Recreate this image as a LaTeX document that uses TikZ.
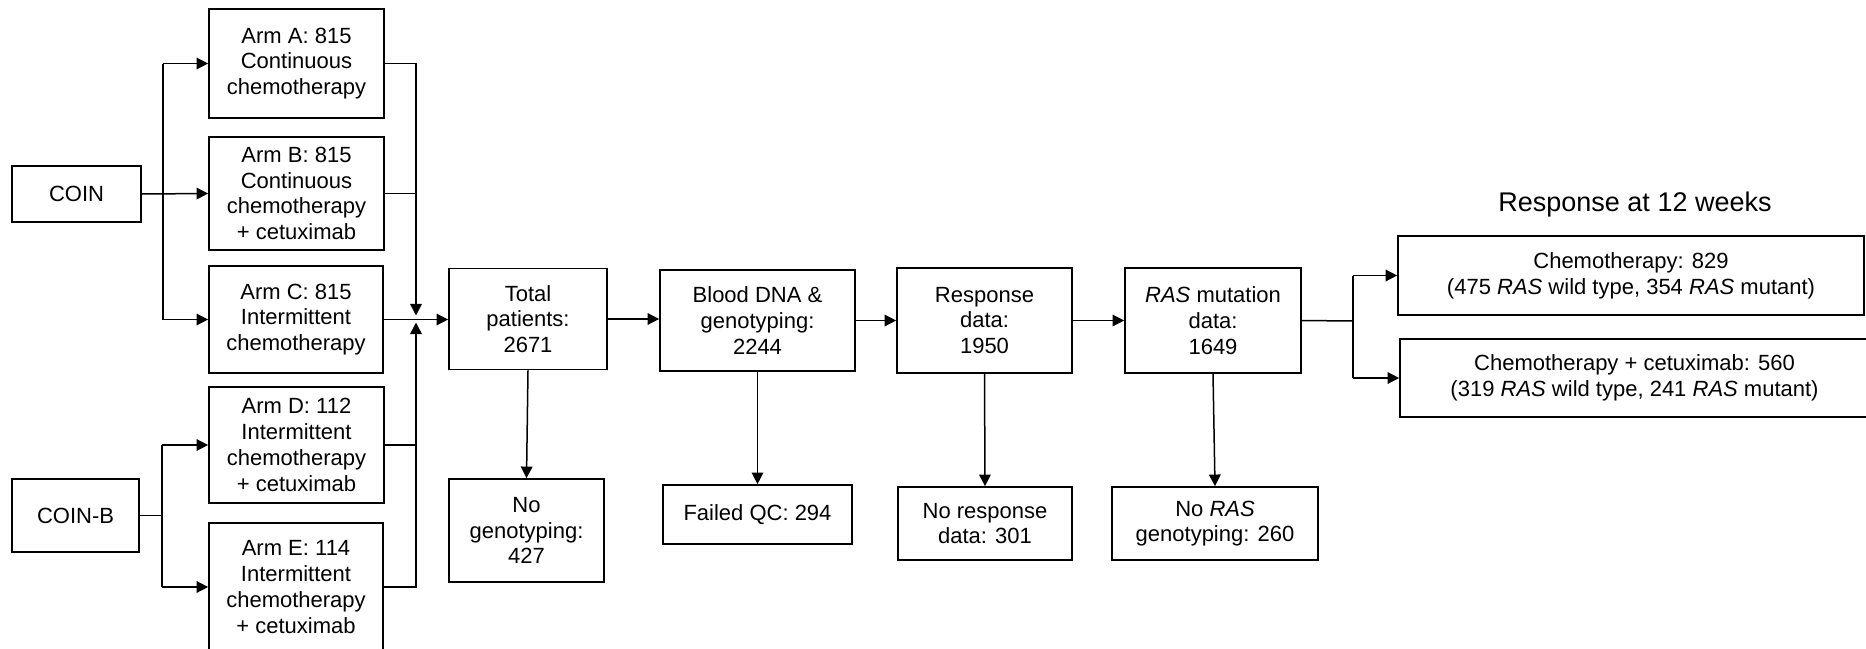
\documentclass[tikz,border=0pt]{standalone}
\usepackage{fontspec}
\setmainfont{Liberation Sans}
\usetikzlibrary{arrows.meta}
\tikzset{%
	block/.style={draw,line width=0.85pt,align=center,inner sep=0pt,font=\fontsize{11}{12.9}\selectfont},
	link/.style={line width=0.75pt},
	flow/.style={link,-{Triangle[length=5.8pt,width=5.8pt]}},
}

\begin{document}
\begin{tikzpicture}[x=0.5pt,y=-0.5pt]
	\useasboundingbox (0,0) rectangle (1866,648);
	\clip (0,0) rectangle (1866,648);
	
	%studies
	\node[block,minimum width=64.5pt,minimum height=28pt] (coin) at (76.5,194) {COIN};
	\node[block,minimum width=63.5pt,minimum height=36.5pt] (coinb) at (75.5,515.5) {COIN-B};
	
	%arms
	\node[block,minimum width=87.5pt,minimum height=54.5pt] (armA) at (296.5,63.5) {Arm A: 815\\Continuous\\chemotherapy};
	\node[block,minimum width=87.5pt,minimum height=56.5pt] (armB) at (296.5,193.5) {Arm B: 815\\Continuous\\chemotherapy\\+ cetuximab};
	\node[block,minimum width=87pt,minimum height=53.5pt] (armC) at (296,319.5) {Arm C: 815\\Intermittent\\chemotherapy};
	\node[block,minimum width=87.5pt,minimum height=58pt] (armD) at (296.5,445) {Arm D: 112\\Intermittent\\chemotherapy\\+ cetuximab};
	\node[block,minimum width=87pt,minimum height=64pt] (armE) at (296,587) {Arm E: 114\\Intermittent\\chemotherapy\\+ cetuximab};
	
	%main row
	\node[block,minimum width=79pt,minimum height=50.5pt] (total) at (528,319) {Total\\patients:\\2671};
	\node[block,minimum width=97.5pt,minimum height=50.5pt] (dna) at (757.5,320.5) {Blood DNA \&\\genotyping:\\2244};
	\node[block,minimum width=87.5pt,minimum height=52.5pt] (resp) at (984.5,320.5) {Response\\data:\\1950};
	\node[block,minimum width=88pt,minimum height=52.5pt] (rasmut) at (1213,320.5) {\textit{RAS} mutation\\data:\\1649};
	
	%exclusions
	\node[block,minimum width=77.5pt,minimum height=51.5pt] (nogeno) at (526.5,530.5) {No\\genotyping:\\427};
	\node[block,minimum width=94.5pt,minimum height=29.5pt] (failqc) at (757.5,514.5) {Failed QC: 294};
	\node[block,minimum width=87pt,minimum height=36.5pt] (noresp) at (985,523.5) {No response\\data: 301};
	\node[block,minimum width=103pt,minimum height=36.5pt] (noras) at (1215,523.5) {No \textit{RAS}\\genotyping: 260};
	
	%response
	\node[font=\fontsize{13.5}{16}\selectfont] (title) at (1635,205) {Response at 12 weeks};
	\node[block,minimum width=233pt,minimum height=39.5pt] (chemo) at (1631,275.5) {Chemotherapy: 829\\(475 \textit{RAS} wild type, 354 \textit{RAS} mutant)};
	\node[block,minimum width=234.5pt,minimum height=39pt] (chemocet) at (1634.5,378) {Chemotherapy + cetuximab: 560\\(319 \textit{RAS} wild type, 241 \textit{RAS} mutant)};
	
	%forks
	\coordinate (coinfork) at (163,194);
	\coordinate (coinbfork) at (162,515.5);
	\coordinate (join) at (416,319);
	\coordinate (jointop) at (416,315.5);
	\coordinate (joinbot) at (416,322.5);
	\coordinate (resfork) at (1353,321);
	
	%COIN
	\draw[flow] (coin.east) -- (armB.west);
	\draw[link] (coinfork |- armA.west) -- (coinfork |- armC.west);
	\draw[flow] (coinfork |- armA.west) -- (armA.west);
	\draw[flow] (coinfork |- armC.west) -- (armC.west);
	
	%COIN-B
	\draw[link] (coinb.east) -- (coinbfork);
	\draw[link] (coinbfork |- armD.west) -- (coinbfork |- armE.west);
	\draw[flow] (coinbfork |- armD.west) -- (armD.west);
	\draw[flow] (coinbfork |- armE.west) -- (armE.west);
	
	%merge
	\draw[flow] (armA.east) -| (jointop);
	\draw[link] (armB.east) -- (armB.east -| join);
	\draw[flow] (armE.east) -| (joinbot);
	\draw[link] (armD.east) -- (armD.east -| join);
	\draw[flow] (armC.east) -- (armC.east -| total.west);
	
	%main flow
	\draw[flow] (total.east) -- (total.east -| dna.west);
	\draw[flow] (dna.east) -- (dna.east -| resp.west);
	\draw[flow] (resp.east) -- (resp.east -| rasmut.west);
	\draw[link] (rasmut.east) -- (resfork);
	\draw[link] (resfork |- chemo.west) -- (resfork |- chemocet.west);
	\draw[flow] (resfork |- chemo.west) -- (chemo.west);
	\draw[flow] (resfork |- chemocet.west) -- (chemocet.west);
	
	%drop-outs
	\draw[flow] (total.south) -- (nogeno.north);
	\draw[flow] (dna.south) -- (failqc.north);
	\draw[flow] (resp.south) -- (noresp.north);
	\draw[flow] (rasmut.south) -- (noras.north);
\end{tikzpicture}
\end{document}
